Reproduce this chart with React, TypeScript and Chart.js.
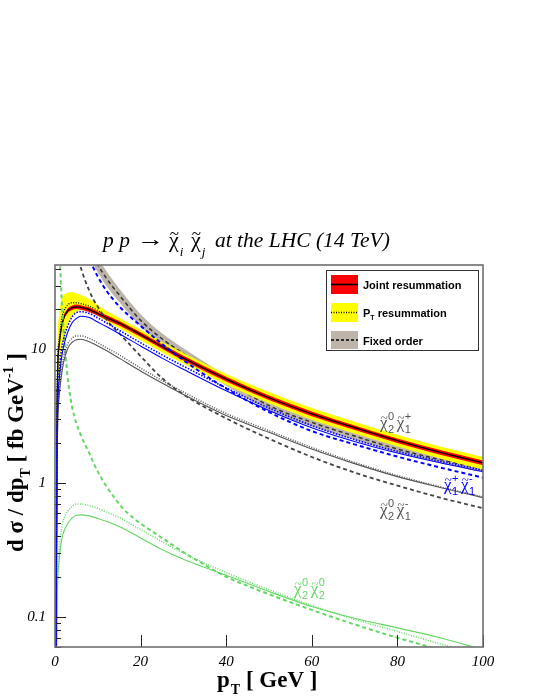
import React, { useEffect, useRef } from 'react';
import { Chart, registerables } from 'chart.js';

Chart.register(...registerables);

const X_MIN = 0;
const X_MAX = 100;
const Y_MIN = 0.0597;
const Y_MAX = 42.7;
const X_TICKS = [0, 20, 40, 60, 80, 100];
const Y_TICKS = [0.1, 1, 10];

const PT = [0, 0.5, 1, 1.5, 2, 3, 4, 5, 6, 8, 10, 12, 15, 20, 25, 30, 40, 50, 60, 70, 80, 90, 100];

// chi2^0 chi1^+ : joint resummation (central + band)
const N2C1P_JOINT = [0.001, 4, 11, 14.5, 17, 19.5, 20.5, 20.8, 20.6, 19.8, 18.5, 17.3, 15.7, 12.9, 10.5, 8.6, 6.0, 4.35, 3.3, 2.6, 2.08, 1.7, 1.42];
const N2C1P_JOINT_HI = [0.001, 4.2, 11.5, 15.1, 17.7, 20.3, 21.3, 21.6, 21.4, 20.6, 19.2, 18.0, 16.3, 13.4, 10.9, 8.95, 6.25, 4.52, 3.43, 2.7, 2.16, 1.77, 1.48];
const N2C1P_JOINT_LO = [0.001, 3.8, 10.5, 13.9, 16.3, 18.7, 19.7, 20.0, 19.8, 19.0, 17.8, 16.6, 15.1, 12.4, 10.1, 8.25, 5.75, 4.18, 3.17, 2.5, 2.0, 1.63, 1.36];
// chi2^0 chi1^+ : pT resummation (central + band)
const N2C1P_PTRES = [0.001, 5, 12, 16.5, 19, 21.5, 22.3, 22.3, 22.0, 21.0, 19.5, 17.8, 15.8, 12.8, 10.4, 8.55, 5.95, 4.35, 3.3, 2.6, 2.08, 1.7, 1.41];
const N2C1P_PTRES_HI = [0.001, 8, 18, 24, 25.5, 26.5, 26.7, 26.3, 25.5, 23.8, 21.5, 19.4, 17.2, 14.0, 11.4, 9.4, 6.55, 4.8, 3.65, 2.88, 2.3, 1.88, 1.57];
const N2C1P_PTRES_LO = [0.001, 3, 7, 10, 12, 15.5, 18, 19.2, 19.6, 19.2, 17.8, 16.2, 14.4, 11.7, 9.5, 7.8, 5.45, 3.95, 2.98, 2.35, 1.88, 1.53, 1.26];
// chi2^0 chi1^+ : fixed order (central + band)
const N2C1P_FO_PT = [8, 9, 10, 12, 15, 20, 25, 30, 40, 50, 60, 70, 80, 90, 100];
const N2C1P_FO = [62, 50, 43, 34, 25.5, 16.5, 12.0, 9.3, 5.85, 3.8, 2.85, 2.25, 1.8, 1.5, 1.28];
const N2C1P_FO_HI = [72, 58, 49, 38.5, 28.5, 18.3, 13.2, 10.2, 6.35, 4.1, 3.05, 2.4, 1.92, 1.59, 1.36];
const N2C1P_FO_LO = [53, 43, 37.5, 29.8, 22.6, 14.8, 10.8, 8.4, 5.35, 3.5, 2.65, 2.1, 1.69, 1.41, 1.2];

// chi1^+ chi1^-
const C1C1_JOINT = [0.001, 2, 6, 8.5, 10.5, 13.5, 15.8, 17.0, 17.7, 17.3, 16.0, 14.8, 13.1, 10.6, 8.6, 7.1, 4.9, 3.5, 2.6, 2.05, 1.68, 1.42, 1.22];
const C1C1_PTRES = [0.001, 3, 7, 9.8, 12, 15, 17.5, 18.8, 19.1, 18.6, 17.2, 15.8, 13.9, 11.2, 9.1, 7.5, 5.15, 3.65, 2.7, 2.12, 1.73, 1.46, 1.25];
const C1C1_FO_PT = [7, 8, 9, 10, 12, 15, 20, 25, 30, 40, 50, 60, 70, 80, 90, 100];
const C1C1_FO = [58, 48, 40.5, 35, 27.5, 21, 15, 11, 8.3, 5.1, 3.4, 2.45, 1.95, 1.58, 1.31, 1.1];

// chi2^0 chi1^-
const N2C1M_JOINT = [0.001, 1.5, 4.5, 6.3, 8.0, 10.2, 11.3, 11.8, 11.9, 11.4, 10.6, 9.8, 8.6, 6.9, 5.6, 4.6, 3.2, 2.4, 1.8, 1.4, 1.12, 0.93, 0.78];
const N2C1M_PTRES = [0.001, 2, 5.2, 7, 8.8, 11, 12.1, 12.6, 12.6, 12.1, 11.2, 10.3, 9.1, 7.25, 5.85, 4.8, 3.32, 2.47, 1.85, 1.43, 1.14, 0.94, 0.79];
const N2C1M_FO_PT = [5, 5.5, 6, 7, 8, 9, 10, 12, 15, 20, 25, 30, 40, 50, 60, 70, 80, 90, 100];
const N2C1M_FO = [52, 46, 41, 33, 27.5, 23.5, 20.8, 16.7, 13.2, 8.9, 6.1, 4.6, 3.05, 2.15, 1.57, 1.2, 0.96, 0.78, 0.65];

// chi2^0 chi2^0
const N2N2_JOINT = [0.001, 0.12, 0.27, 0.37, 0.43, 0.5, 0.55, 0.575, 0.58, 0.57, 0.545, 0.52, 0.475, 0.39, 0.32, 0.27, 0.205, 0.155, 0.12, 0.098, 0.083, 0.07, 0.057];
const N2N2_PTRES = [0.001, 0.15, 0.32, 0.45, 0.53, 0.62, 0.67, 0.70, 0.70, 0.68, 0.65, 0.61, 0.555, 0.45, 0.365, 0.30, 0.215, 0.16, 0.122, 0.096, 0.078, 0.063, 0.052];
const N2N2_FO_PT = [1, 1.2, 1.5, 2, 2.5, 3, 3.5, 4, 5, 6, 7, 8, 9, 10, 12, 14, 16, 18, 20, 25, 30, 35, 40, 50, 60, 70, 80, 90, 100];
const N2N2_FO = [60, 42, 26, 14, 8.8, 6.0, 4.6, 3.7, 2.8, 2.3, 1.95, 1.68, 1.42, 1.22, 0.95, 0.77, 0.64, 0.56, 0.5, 0.39, 0.305, 0.245, 0.2, 0.148, 0.113, 0.088, 0.07, 0.057, 0.047];

const RED = '#ff0000';
const YELLOW = '#ffff00';
const TAN = '#bdb5aa';
const BLUE = '#0000ff';
const GRAY = '#555555';
const GREEN = '#62d862';

const SERIF = '"Liberation Serif", "Times New Roman", serif';
const SANS = '"Liberation Sans", Arial, sans-serif';

const pts = (xs: number[], ys: number[]) => xs.map((x, i) => ({ x, y: ys[i] }));

function curve(label: string, xs: number[], ys: number[], color: string, width: number, dash: number[], extra: any = {}) {
  return {
    label,
    data: pts(xs, ys),
    borderColor: color,
    backgroundColor: color,
    borderWidth: width,
    borderDash: dash,
    pointRadius: 0,
    fill: false,
    cubicInterpolationMode: 'monotone',
    ...extra,
  };
}

// chi with a tilde on top; returns glyph width
function drawChi(ctx: CanvasRenderingContext2D, x: number, y: number, size: number, color: string) {
  ctx.fillStyle = color;
  ctx.font = `${size}px ${SERIF}`;
  ctx.textAlign = 'left';
  ctx.fillText('\u03c7', x, y);
  const w = ctx.measureText('\u03c7').width;
  ctx.font = `${Math.round(size * 0.75)}px ${SERIF}`;
  ctx.textAlign = 'center';
  ctx.fillText('~', x + w / 2 + 0.5, y - size * 0.36);
  ctx.textAlign = 'left';
  return w;
}

function drawPair(ctx: CanvasRenderingContext2D, x: number, y: number, parts: [string, string][], color: string) {
  let cx = x;
  for (const [sub, sup] of parts) {
    const w = drawChi(ctx, cx, y, 17, color);
    ctx.font = `11px ${SANS}`;
    ctx.fillText(sup, cx + w + 0.5, y - 8);
    ctx.fillText(sub, cx + w + 0.5, y + 5);
    const sw = Math.max(ctx.measureText(sup).width, ctx.measureText(sub).width);
    cx += w + sw + 3;
  }
}

const decorPlugin = {
  id: 'decor',
  afterDraw(chart: any) {
    const ctx: CanvasRenderingContext2D = chart.ctx;
    const { left, right, top, bottom } = chart.chartArea;
    const xs = chart.scales.x;
    const ys = chart.scales.y;
    ctx.save();

    // ticks
    ctx.strokeStyle = '#222';
    ctx.lineWidth = 1;
    ctx.setLineDash([]);
    ctx.beginPath();
    for (const dec of [0.01, 0.1, 1, 10]) {
      for (let k = 1; k <= 9; k++) {
        const v = k * dec;
        if (v < Y_MIN || v > Y_MAX) continue;
        const py = Math.round(ys.getPixelForValue(v)) + 0.5;
        const len = k === 1 ? 11 : 6;
        ctx.moveTo(left, py);
        ctx.lineTo(left + len, py);
      }
    }
    for (const v of X_TICKS) {
      const px = Math.round(xs.getPixelForValue(v)) + 0.5;
      ctx.moveTo(px, bottom);
      ctx.lineTo(px, bottom - 12);
    }
    ctx.stroke();

    // frame
    ctx.strokeStyle = '#6e6e6e';
    ctx.lineWidth = 1.6;
    ctx.strokeRect(left, top, right - left, bottom - top);

    // legend
    const lx = 326.5, ly = 270.5, lw = 152, lh = 80;
    ctx.fillStyle = '#fff';
    ctx.fillRect(lx, ly, lw, lh);
    ctx.strokeStyle = '#333';
    ctx.lineWidth = 1;
    ctx.strokeRect(lx, ly, lw, lh);
    const sx = 331, sw = 27;
    const entries: { fill: string; dash: number[]; y: number; h: number }[] = [
      { fill: RED, dash: [], y: 275, h: 19 },
      { fill: YELLOW, dash: [1, 1.5], y: 303, h: 19 },
      { fill: TAN, dash: [3, 2], y: 331, h: 18 },
    ];
    for (const e of entries) {
      ctx.fillStyle = e.fill;
      ctx.fillRect(sx, e.y, sw, e.h);
      ctx.strokeStyle = '#000';
      ctx.lineWidth = e.dash.length ? 1.3 : 1.6;
      ctx.setLineDash(e.dash);
      ctx.beginPath();
      ctx.moveTo(sx, e.y + e.h / 2);
      ctx.lineTo(sx + sw, e.y + e.h / 2);
      ctx.stroke();
    }
    ctx.setLineDash([]);
    ctx.fillStyle = '#000';
    ctx.textAlign = 'left';
    ctx.textBaseline = 'alphabetic';
    ctx.font = `bold 11px ${SANS}`;
    ctx.fillText('Joint resummation', 363, 289);
    ctx.fillText('P', 363, 317);
    let pw = ctx.measureText('P').width;
    ctx.font = `bold 7px ${SANS}`;
    ctx.fillText('T', 363 + pw, 320);
    pw += ctx.measureText('T').width;
    ctx.font = `bold 11px ${SANS}`;
    ctx.fillText(' resummation', 363 + pw, 317);
    ctx.fillText('Fixed order', 363, 345);

    // curve labels
    drawPair(ctx, 380, 428, [['2', '0'], ['1', '+']], '#555');
    drawPair(ctx, 444, 490, [['1', '+'], ['1', '-']], BLUE);
    drawPair(ctx, 380, 515, [['2', '0'], ['1', '-']], '#555');
    drawPair(ctx, 294, 594, [['2', '0'], ['2', '0']], GREEN);

    // title
    ctx.fillStyle = '#000';
    ctx.font = `italic 21.5px ${SERIF}`;
    ctx.fillText('p p', 103, 247);
    ctx.save();
    ctx.translate(137, 246);
    ctx.scale(1.3, 1);
    ctx.font = `21px ${SERIF}`;
    ctx.fillText('\u2192', 0, 0);
    ctx.restore();
    const w1 = drawChi(ctx, 169, 247, 22, '#000');
    ctx.font = `italic 13px ${SERIF}`;
    ctx.fillText('i', 170 + w1, 256);
    const w2 = drawChi(ctx, 191, 247, 22, '#000');
    ctx.font = `italic 13px ${SERIF}`;
    ctx.fillText('j', 192 + w2, 256);
    ctx.font = `italic 21.5px ${SERIF}`;
    ctx.fillText('at the LHC (14 TeV)', 215, 247);

    // x title
    ctx.font = `bold 23px ${SERIF}`;
    ctx.fillText('p', 217, 687);
    let xw = ctx.measureText('p').width;
    ctx.font = `bold 14px ${SERIF}`;
    ctx.fillText('T', 217 + xw + 1, 694);
    xw += ctx.measureText('T').width + 1;
    ctx.font = `bold 23px ${SERIF}`;
    ctx.fillText(' [ GeV ]', 217 + xw, 687);

    // y title (rotated)
    ctx.save();
    ctx.translate(23, 552);
    ctx.rotate(-Math.PI / 2);
    let yx = 0;
    const seg = (t: string, font: string, dy: number) => {
      ctx.font = font;
      ctx.fillText(t, yx, dy);
      yx += ctx.measureText(t).width;
    };
    seg('d \u03c3 / dp', `bold 23px ${SERIF}`, 0);
    seg('T', `bold 14px ${SERIF}`, 7);
    seg(' [ fb GeV', `bold 23px ${SERIF}`, 0);
    seg('-1', `bold 14px ${SERIF}`, -10);
    seg(' ]', `bold 23px ${SERIF}`, 0);
    ctx.restore();

    ctx.restore();
  },
};

export default function App() {
  const ref = useRef<HTMLCanvasElement | null>(null);
  useEffect(() => {
    if (!ref.current) return;
    const datasets: any[] = [
      // index 0 drawn on top
      curve('C1C1 joint', PT, C1C1_JOINT, BLUE, 1.1, []),
      curve('C1C1 pT', PT, C1C1_PTRES, BLUE, 1.6, [1.5, 1.5]),
      curve('C1C1 FO', C1C1_FO_PT, C1C1_FO, BLUE, 2, [4, 3]),
      curve('N2C1M joint', PT, N2C1M_JOINT, GRAY, 1.1, []),
      curve('N2C1M pT', PT, N2C1M_PTRES, GRAY, 1.5, [1, 1.5]),
      curve('N2C1M FO', N2C1M_FO_PT, N2C1M_FO, '#444', 1.8, [4, 3]),
      curve('N2N2 joint', PT, N2N2_JOINT, GREEN, 1.1, []),
      curve('N2N2 pT', PT, N2N2_PTRES, GREEN, 1.5, [1, 1.5]),
      curve('N2N2 FO', N2N2_FO_PT, N2N2_FO, GREEN, 2, [4, 3]),
      curve('N2C1P joint', PT, N2C1P_JOINT, '#000', 1.3, []),
      curve('N2C1P joint hi', PT, N2C1P_JOINT_HI, RED, 0, [], { fill: 11, backgroundColor: RED }),
      curve('N2C1P joint lo', PT, N2C1P_JOINT_LO, RED, 0, []),
      curve('N2C1P pT', PT, N2C1P_PTRES, '#000', 1.3, [1, 1.5]),
      curve('N2C1P pT hi', PT, N2C1P_PTRES_HI, YELLOW, 0, [], { fill: 14, backgroundColor: YELLOW }),
      curve('N2C1P pT lo', PT, N2C1P_PTRES_LO, YELLOW, 0, []),
      curve('N2C1P FO', N2C1P_FO_PT, N2C1P_FO, '#333', 1.5, [4, 3]),
      curve('N2C1P FO hi', N2C1P_FO_PT, N2C1P_FO_HI, TAN, 0, [], { fill: 17, backgroundColor: TAN }),
      curve('N2C1P FO lo', N2C1P_FO_PT, N2C1P_FO_LO, TAN, 0, []),
    ];
    const chart = new Chart(ref.current, {
      type: 'line',
      data: { datasets },
      options: {
        animation: false,
        responsive: false,
        devicePixelRatio: 1,
        layout: { padding: { top: 265, right: 57, left: 0, bottom: 0 } },
        plugins: { legend: { display: false }, tooltip: { enabled: false }, title: { display: false } },
        scales: {
          x: {
            type: 'linear',
            min: X_MIN,
            max: X_MAX,
            grid: { display: false, drawTicks: false },
            border: { display: false },
            afterBuildTicks: (s: any) => { s.ticks = X_TICKS.map((v) => ({ value: v })); },
            afterFit: (s: any) => { s.height = 52; },
            ticks: {
              padding: 6,
              maxRotation: 0,
              color: '#000',
              font: { family: SERIF, style: 'italic', size: 15 },
              callback: (v: any) => String(v),
            },
          },
          y: {
            type: 'logarithmic',
            min: Y_MIN,
            max: Y_MAX,
            grid: { display: false, drawTicks: false },
            border: { display: false },
            afterBuildTicks: (s: any) => { s.ticks = Y_TICKS.map((v) => ({ value: v })); },
            afterFit: (s: any) => { s.width = 55; },
            ticks: {
              padding: 9,
              color: '#000',
              font: { family: SERIF, style: 'italic', size: 15 },
              callback: (v: any) => String(v),
            },
          },
        },
      },
      plugins: [decorPlugin],
    } as any);
    return () => chart.destroy();
  }, []);
  return (
    <div style={{ position: 'absolute', left: 0, top: 0, width: 540, height: 699, background: '#fff' }}>
      <canvas ref={ref} width={540} height={699} style={{ display: 'block' }} />
    </div>
  );
}
